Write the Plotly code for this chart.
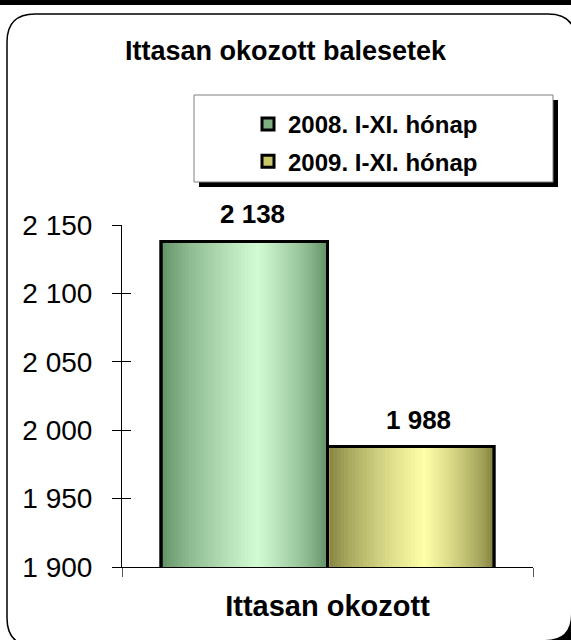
import plotly.graph_objects as go

# data
category = "Ittasan okozott"
series_names = ["2008. I-XI. hónap", "2009. I-XI. hónap"]
values = [2138, 1988]
y_range = [1900, 2150]
y_ticks = [1900, 1950, 2000, 2050, 2100, 2150]

# styles: (edge colour, light centre colour, legend colour)
styles = [("#5a8a5f", "#d2fbd2", "#7fae82"),
          ("#7a7a38", "#ffffa8", "#c8c86a")]

W, H = 571, 640
L, R, T, B = 122, 38, 225, 73
PW, PH = W - L - R, H - T - B
FONT = "Liberation Sans"


def px(x):
    return (x - L) / PW


def py(y):
    return (H - B - y) / PH


def mix(c1, c2, t):
    a = [int(c1[i:i + 2], 16) for i in (1, 3, 5)]
    b = [int(c2[i:i + 2], 16) for i in (1, 3, 5)]
    return "rgb(%d,%d,%d)" % tuple(round(a[k] + (b[k] - a[k]) * t) for k in range(3))


bar_w = 0.405
fig = go.Figure()

for i, (name, v) in enumerate(zip(series_names, values)):
    edge, light, leg = styles[i]
    center = -bar_w / 2 if i == 0 else bar_w / 2
    # outer bar carries the legend entry
    fig.add_trace(go.Bar(
        x=[category], y=[v], name="<b>%s</b>" % name, width=[bar_w],
        offset=[center - bar_w / 2], legendgroup=name,
        marker=dict(color=leg, line=dict(color="black", width=3)),
        hoverinfo="skip"))
    # gradient layers
    n = 26
    for k in range(n):
        f = 1 - (k + 0.5) / n
        t = (k + 1) / n
        c = center + 0.08 * bar_w * (1 - f)
        col = mix(edge, light, t ** 0.7)
        fig.add_trace(go.Bar(
            x=[category], y=[v], width=[bar_w * f],
            offset=[c - bar_w * f / 2], showlegend=False,
            marker=dict(color=col, line=dict(width=0)),
            hoverinfo="skip"))
    # border on top
    fig.add_trace(go.Bar(
        x=[category], y=[v], width=[bar_w],
        offset=[center - bar_w / 2], showlegend=False,
        marker=dict(color="rgba(0,0,0,0)", line=dict(color="black", width=3)),
        hoverinfo="skip"))

# invisible trace for overlay axes (crossing ticks)
fig.add_trace(go.Scatter(x=[None], y=[None], xaxis="x2", yaxis="y2",
                         showlegend=False, hoverinfo="skip"))

annotations = []
for i, v in enumerate(values):
    center = -bar_w / 2 if i == 0 else bar_w / 2
    annotations.append(dict(
        x=center, y=v, xref="x", yref="y", showarrow=False,
        text="<b>%s</b>" % f"{v:,}".replace(",", " "),
        font=dict(family=FONT, size=26, color="black"),
        yanchor="middle", yshift=27, xshift=8))

r = 28
x0, y0, x1, y1 = 7, 14, 576, 646
panel = ("M {a},{b} L {c},{b} Q {d},{b} {d},{e} L {d},{f} Q {d},{g} {c},{g} "
         "L {a},{g} Q {h},{g} {h},{f} L {h},{e} Q {h},{b} {a},{b} Z").format(
    a=px(x0 + r), b=py(y0), c=px(x1 - r), d=px(x1), e=py(y0 + r),
    f=py(y1 - r), g=py(y1), h=px(x0))
cr = 26
corner = "M {a},{b} Q {a},{c} {d},{c} L {a},{c} Z".format(
    a=px(W), b=py(H - cr), c=py(H), d=px(W - cr))

shapes = [
    dict(type="rect", xref="paper", yref="paper", x0=px(0), x1=px(W),
         y0=py(0), y1=py(5), fillcolor="black", line=dict(width=0), layer="below"),
    dict(type="path", xref="paper", yref="paper", path=panel,
         line=dict(color="black", width=1.5), layer="below"),
    dict(type="path", xref="paper", yref="paper", path=corner,
         fillcolor="black", line=dict(width=0), layer="below"),
    dict(type="rect", xref="paper", yref="paper", x0=px(199), x1=px(558),
         y0=py(187), y1=py(100), fillcolor="black", line=dict(width=0), layer="below"),
    dict(type="rect", xref="paper", yref="paper", x0=px(194), x1=px(553),
         y0=py(182), y1=py(95), fillcolor="white",
         line=dict(color="#808080", width=1), layer="below"),
]

fig.update_layout(
    width=W, height=H,
    margin=dict(l=L, r=R, t=T, b=B),
    paper_bgcolor="white", plot_bgcolor="rgba(0,0,0,0)",
    barmode="overlay",
    separators=", ",
    font=dict(family=FONT, color="black"),
    title=dict(text="<b>Ittasan okozott balesetek</b>", x=0.5, xanchor="center",
               y=1 - 51 / H, yanchor="middle",
               font=dict(family=FONT, size=27, color="black")),
    xaxis=dict(type="category", range=[-0.5, 0.5], tickson="boundaries",
               ticks="outside", ticklen=9, tickcolor="#555555",
               showline=True, linecolor="black", linewidth=1,
               showgrid=False, zeroline=False, ticklabelstandoff=13,
               tickfont=dict(family=FONT, size=29, color="black"),
               tickprefix="<b>", ticksuffix="</b>"),
    yaxis=dict(range=y_range, tickvals=y_ticks, ticks="outside", ticklen=9,
               tickcolor="black", showline=True, linecolor="black", linewidth=1,
               showgrid=False, zeroline=False, separatethousands=True,
               ticklabelstandoff=14,
               tickfont=dict(family=FONT, size=28, color="black")),
    xaxis2=dict(overlaying="x", range=[-0.5, 0.5], tickvals=[-0.5, 0.5],
                ticks="inside", ticklen=9, tickcolor="#555555",
                showticklabels=False, showline=False, showgrid=False,
                zeroline=False, side="bottom"),
    yaxis2=dict(overlaying="y", range=y_range, tickvals=y_ticks,
                ticks="inside", ticklen=9, tickcolor="black",
                showticklabels=False, showline=False, showgrid=False,
                zeroline=False, side="left"),
    legend=dict(x=px(248), y=py(102), xanchor="left", yanchor="top",
                bgcolor="rgba(0,0,0,0)", borderwidth=0, tracegroupgap=3,
                font=dict(family=FONT, size=24, color="black"),
                itemclick=False),
    shapes=shapes,
    annotations=annotations,
)

fig.write_html("out.html", config={"displayModeBar": False},
               post_script="document.body.style.margin='0';"
                           "document.body.style.overflow='hidden';")
